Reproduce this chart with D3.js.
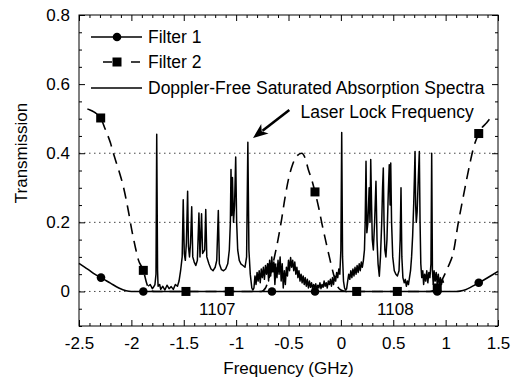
<!DOCTYPE html>
<html>
<head>
<meta charset="utf-8">
<script src="https://cdn.jsdelivr.net/npm/d3@7"></script>
<style>
  html, body { margin: 0; padding: 0; background: #fff; }
  svg { display: block; font-family: "Liberation Sans", Arial, Helvetica, sans-serif; }
</style>
</head>
<body>
<svg id="chart" width="513" height="379"></svg>
<script>
// Filter 1 transmission (solid line) and its markers
const filter1Line = [
  [-2.5, 0.081], [-2.45, 0.071], [-2.4, 0.061], [-2.35, 0.05], [-2.29, 0.04], [-2.2, 0.024],
  [-2.12, 0.01], [-2.05, 0.002], [-2.0, 0], [-1.5, 0], [0, 0], [1.1, 0], [1.137, 0.001],
  [1.19, 0.005], [1.233, 0.011], [1.28, 0.019], [1.316, 0.025], [1.38, 0.036], [1.44, 0.047],
  [1.5, 0.058]
];
const filter1Marks = [
  [-2.29, 0.04], [-1.886, 0], [-0.658, 0], [-0.247, 0], [0.92, 0], [1.316, 0.025]
];

// Filter 2 transmission (dashed line) and its markers
const filter2Line = [
  [-2.42, 0.528], [-2.4, 0.526], [-2.35, 0.518], [-2.293, 0.502], [-2.25, 0.47], [-2.2, 0.43],
  [-2.172, 0.4], [-2.12, 0.35], [-2.077, 0.304], [-2.03, 0.235], [-1.997, 0.179], [-1.96, 0.125],
  [-1.934, 0.092], [-1.886, 0.061], [-1.85, 0.02], [-1.82, 0.003], [-1.78, 0], [-0.76, 0],
  [-0.72, 0.01], [-0.69, 0.035], [-0.658, 0.068], [-0.62, 0.12], [-0.6, 0.15], [-0.565, 0.21],
  [-0.534, 0.27], [-0.5, 0.325], [-0.46, 0.368], [-0.42, 0.392], [-0.374, 0.4], [-0.34, 0.385],
  [-0.311, 0.353], [-0.28, 0.325], [-0.247, 0.288], [-0.21, 0.24], [-0.183, 0.199], [-0.14, 0.14],
  [-0.104, 0.092], [-0.07, 0.05], [-0.04, 0.02], [0.0, 0.004], [0.05, 0], [0.85, 0],
  [0.92, 0.01], [0.96, 0.03], [1.0, 0.055], [1.026, 0.073], [1.073, 0.112], [1.121, 0.199],
  [1.169, 0.275], [1.233, 0.372], [1.27, 0.42], [1.312, 0.454], [1.35, 0.475], [1.392, 0.488],
  [1.424, 0.5], [1.45, 0.505]
];
const filter2Marks = [
  [-2.293, 0.502], [-1.886, 0.061], [-1.479, 0], [-1.065, 0], [-0.658, 0.068],
  [-0.247, 0.288], [0.151, 0], [0.539, 0], [0.92, 0.01], [1.316, 0.457]
];

// Doppler-free saturated absorption spectrum
const spectrum = [
  [-1.84, 0.015], [-1.82, 0.02], [-1.80, 0.008], [-1.79, 0.012], [-1.775, 0.02], [-1.765, 0.05],
  [-1.758, 0.455], [-1.75, 0.06], [-1.745, 0.015], [-1.73, 0.02], [-1.72, 0.006], [-1.70, 0.015],
  [-1.68, 0.004], [-1.66, 0.018], [-1.64, 0.008], [-1.62, 0.014], [-1.60, 0.006], [-1.58, 0.02],
  [-1.56, 0.015], [-1.545, 0.03], [-1.53, 0.06], [-1.515, 0.1],
  [-1.505, 0.265], [-1.495, 0.11], [-1.485, 0.09], [-1.475, 0.14], [-1.463, 0.29], [-1.455, 0.13],
  [-1.445, 0.1], [-1.435, 0.14], [-1.424, 0.245], [-1.414, 0.1], [-1.40, 0.085], [-1.385, 0.075],
  [-1.37, 0.09], [-1.355, 0.227], [-1.345, 0.1], [-1.33, 0.225], [-1.32, 0.11], [-1.30, 0.12],
  [-1.29, 0.237], [-1.28, 0.1], [-1.26, 0.08], [-1.24, 0.065], [-1.22, 0.06], [-1.20, 0.07],
  [-1.185, 0.09], [-1.17, 0.234], [-1.16, 0.08], [-1.14, 0.063], [-1.12, 0.06], [-1.10, 0.065],
  [-1.08, 0.08], [-1.065, 0.12], [-1.055, 0.2], [-1.049, 0.353], [-1.042, 0.22], [-1.035, 0.33],
  [-1.025, 0.2], [-1.015, 0.25], [-1.004, 0.389], [-0.995, 0.2], [-0.985, 0.12], [-0.97, 0.09],
  [-0.955, 0.08], [-0.935, 0.075], [-0.915, 0.07], [-0.90, 0.1], [-0.888, 0.432], [-0.878, 0.12],
  [-0.865, 0.05], [-0.85, 0.01], [-0.84, 0.004],
  [-0.83, 0.01], [-0.82, 0.045], [-0.81, 0.02], [-0.80, 0.055], [-0.79, 0.03], [-0.78, 0.06],
  [-0.77, 0.025], [-0.76, 0.065], [-0.75, 0.04], [-0.74, 0.07], [-0.73, 0.035], [-0.72, 0.075],
  [-0.71, 0.05], [-0.70, 0.08], [-0.69, 0.03], [-0.68, 0.09], [-0.67, 0.045], [-0.66, 0.1],
  [-0.65, 0.06], [-0.64, 0.085], [-0.63, 0.02], [-0.62, 0.07], [-0.61, 0.04], [-0.60, 0.09],
  [-0.59, 0.05], [-0.58, 0.1], [-0.57, 0.03], [-0.56, 0.08], [-0.55, 0.01], [-0.54, 0.06],
  [-0.53, 0.02], [-0.52, 0.07], [-0.51, 0.045], [-0.50, 0.09], [-0.49, 0.06], [-0.48, 0.098],
  [-0.47, 0.07], [-0.46, 0.09], [-0.45, 0.06], [-0.44, 0.085], [-0.43, 0.05], [-0.42, 0.07],
  [-0.41, 0.04], [-0.40, 0.06], [-0.39, 0.03], [-0.38, 0.05], [-0.37, 0.025], [-0.36, 0.045],
  [-0.35, 0.02], [-0.34, 0.04], [-0.33, 0.015], [-0.32, 0.035], [-0.31, 0.01], [-0.30, 0.03],
  [-0.29, 0.012], [-0.28, 0.025], [-0.27, 0.008], [-0.26, 0.02], [-0.25, 0.01], [-0.24, 0.022],
  [-0.23, 0.006], [-0.22, 0.018], [-0.21, 0.01], [-0.20, 0.025], [-0.19, 0.008], [-0.18, 0.02],
  [-0.17, 0.012], [-0.16, 0.03], [-0.15, 0.015], [-0.14, 0.025], [-0.13, 0.01], [-0.12, 0.03],
  [-0.11, 0.02], [-0.10, 0.035], [-0.09, 0.015], [-0.08, 0.04], [-0.07, 0.02], [-0.06, 0.045],
  [-0.05, 0.03], [-0.04, 0.055], [-0.03, 0.04], [-0.02, 0.065], [-0.01, 0.05], [0.0, 0.12],
  [0.008, 0.46], [0.016, 0.1], [0.025, 0.03], [0.035, 0.01], [0.045, 0.004], [0.055, 0.008],
  [0.065, 0.03], [0.075, 0.05], [0.085, 0.035], [0.095, 0.06], [0.105, 0.04], [0.115, 0.065],
  [0.125, 0.045], [0.135, 0.07], [0.145, 0.05], [0.155, 0.075], [0.165, 0.055], [0.175, 0.08],
  [0.185, 0.06], [0.195, 0.085], [0.205, 0.07], [0.215, 0.09], [0.225, 0.12], [0.232, 0.2],
  [0.24, 0.377], [0.248, 0.17], [0.258, 0.2], [0.27, 0.3], [0.278, 0.2], [0.285, 0.382],
  [0.293, 0.25], [0.30, 0.15], [0.31, 0.12], [0.322, 0.2], [0.335, 0.319], [0.345, 0.15],
  [0.355, 0.08], [0.367, 0.044], [0.378, 0.1], [0.39, 0.2], [0.398, 0.3], [0.405, 0.357],
  [0.412, 0.2], [0.42, 0.12], [0.43, 0.1], [0.44, 0.15], [0.452, 0.28], [0.462, 0.367],
  [0.47, 0.25], [0.476, 0.372], [0.484, 0.2], [0.495, 0.1], [0.51, 0.06], [0.525, 0.05],
  [0.54, 0.045], [0.555, 0.06], [0.566, 0.15], [0.574, 0.3], [0.582, 0.1], [0.592, 0.04],
  [0.605, 0.025], [0.615, 0.035], [0.625, 0.015], [0.635, 0.03], [0.645, 0.02], [0.655, 0.04],
  [0.665, 0.06], [0.675, 0.1], [0.685, 0.16], [0.695, 0.25], [0.702, 0.33], [0.708, 0.405],
  [0.714, 0.25], [0.72, 0.2], [0.728, 0.23], [0.736, 0.3], [0.742, 0.35], [0.749, 0.405],
  [0.756, 0.2], [0.763, 0.08], [0.772, 0.04], [0.782, 0.06], [0.79, 0.02], [0.80, 0.05],
  [0.81, 0.03], [0.82, 0.06], [0.83, 0.025], [0.84, 0.055], [0.85, 0.04], [0.86, 0.08],
  [0.867, 0.4], [0.874, 0.06], [0.882, 0.02], [0.89, 0.06], [0.90, 0.03], [0.91, 0.055],
  [0.92, 0.02], [0.93, 0.05], [0.94, 0.015], [0.95, 0.04], [0.96, 0.02], [0.97, 0.035],
  [0.98, 0.025]
];

const xTicks = [-2.5, -2, -1.5, -1, -0.5, 0, 0.5, 1, 1.5];
const xTickLabels = ['-2.5', '-2', '-1.5', '-1', '-0.5', '0', '0.5', '1', '1.5'];
const yTicks = [0, 0.2, 0.4, 0.6, 0.8];
const yTickLabels = ['0', '0.2', '0.4', '0.6', '0.8'];
const gridLevels = [0, 0.2, 0.4];
const lineLabels = [
  { text: '1107', x: -1.18, y: -0.05 },
  { text: '1108', x: 0.52, y: -0.05 }
];
const legendNames = ['Filter 1', 'Filter 2', 'Doppler-Free Saturated Absorption Spectra'];

const svg = d3.select('#chart');
const margin = { top: 15, right: 15, bottom: 53, left: 79 };
const width = 513, height = 379;
const innerW = width - margin.left - margin.right;
const innerH = height - margin.top - margin.bottom;

const x = d3.scaleLinear().domain([-2.5, 1.5]).range([0, innerW]);
const y = d3.scaleLinear().domain([-0.1, 0.8]).range([innerH, 0]);

const g = svg.append('g').attr('transform', `translate(${margin.left},${margin.top})`);

// dotted reference lines
g.selectAll('line.grid').data(gridLevels).join('line')
  .attr('class', 'grid')
  .attr('x1', 0).attr('x2', innerW)
  .attr('y1', (d) => y(d)).attr('y2', (d) => y(d))
  .attr('stroke', '#444').attr('stroke-width', 1)
  .attr('stroke-dasharray', '1.5,3.5');

const xMinor = d3.range(-25, 16).map((i) => i / 10).filter((v) => !xTicks.some((t) => Math.abs(t - v) < 1e-6));
const yMinor = d3.range(-2, 17).map((i) => i / 20).filter((v) => !yTicks.some((t) => Math.abs(t - v) < 1e-6));

const styleAxis = (a) => {
  a.select('.domain').remove();
  a.selectAll('.tick line').attr('stroke', '#000').attr('stroke-width', 1);
  a.selectAll('.tick text').attr('fill', '#000').attr('font-size', '17px');
};

// bottom axis
g.append('g').attr('transform', `translate(0,${innerH})`)
  .call(d3.axisBottom(x).tickValues(xTicks).tickSize(-6).tickPadding(11)
    .tickFormat((d, i) => xTickLabels[i]))
  .call(styleAxis);
g.append('g').attr('transform', `translate(0,${innerH})`)
  .call(d3.axisBottom(x).tickValues(xMinor).tickSize(-3).tickFormat(''))
  .call(styleAxis);
// top axis
g.append('g')
  .call(d3.axisTop(x).tickValues(xTicks).tickSize(-6).tickFormat(''))
  .call(styleAxis);
g.append('g')
  .call(d3.axisTop(x).tickValues(xMinor).tickSize(-3).tickFormat(''))
  .call(styleAxis);
// left axis
g.append('g')
  .call(d3.axisLeft(y).tickValues(yTicks).tickSize(-6).tickPadding(9)
    .tickFormat((d, i) => yTickLabels[i]))
  .call(styleAxis);
g.append('g')
  .call(d3.axisLeft(y).tickValues(yMinor).tickSize(-3).tickFormat(''))
  .call(styleAxis);
// right axis
g.append('g').attr('transform', `translate(${innerW},0)`)
  .call(d3.axisRight(y).tickValues(yTicks).tickSize(-6).tickFormat(''))
  .call(styleAxis);
g.append('g').attr('transform', `translate(${innerW},0)`)
  .call(d3.axisRight(y).tickValues(yMinor).tickSize(-3).tickFormat(''))
  .call(styleAxis);

// frame
g.append('rect').attr('width', innerW).attr('height', innerH)
  .attr('fill', 'none').attr('stroke', '#000').attr('stroke-width', 1);

const line = d3.line().x((d) => x(d[0])).y((d) => y(d[1]));
const smooth = d3.line().x((d) => x(d[0])).y((d) => y(d[1])).curve(d3.curveMonotoneX);

g.append('path').datum(spectrum)
  .attr('fill', 'none').attr('stroke', '#000').attr('stroke-width', 1.5)
  .attr('stroke-linejoin', 'round').attr('d', line);

g.append('path').datum(filter2Line)
  .attr('fill', 'none').attr('stroke', '#000').attr('stroke-width', 1.6)
  .attr('stroke-dasharray', '11,7').attr('d', smooth);

g.append('path').datum(filter1Line)
  .attr('fill', 'none').attr('stroke', '#000').attr('stroke-width', 1.6)
  .attr('d', smooth);

g.selectAll('circle.f1').data(filter1Marks).join('circle')
  .attr('class', 'f1')
  .attr('cx', (d) => x(d[0])).attr('cy', (d) => y(d[1])).attr('r', 4.3).attr('fill', '#000');

const sq = 9;
g.selectAll('rect.f2').data(filter2Marks).join('rect')
  .attr('class', 'f2')
  .attr('x', (d) => x(d[0]) - sq / 2).attr('y', (d) => y(d[1]) - sq / 2)
  .attr('width', sq).attr('height', sq).attr('fill', '#000');

// line labels
g.selectAll('text.lbl').data(lineLabels).join('text')
  .attr('class', 'lbl')
  .attr('x', (d) => x(d.x)).attr('y', (d) => y(d.y)).attr('dy', '0.35em')
  .attr('text-anchor', 'middle').attr('font-size', '17px').text((d) => d.text);

// laser lock annotation
const tip = [-0.839, 0.444], tail = [-0.492, 0.525];
const tx = x(tip[0]), ty = y(tip[1]), sx = x(tail[0]), sy = y(tail[1]);
const ang = Math.atan2(ty - sy, tx - sx);
const headLen = 15, headW = 6;
const bx = tx - headLen * Math.cos(ang), by = ty - headLen * Math.sin(ang);
g.append('line').attr('x1', sx).attr('y1', sy).attr('x2', bx + 3 * Math.cos(ang)).attr('y2', by + 3 * Math.sin(ang))
  .attr('stroke', '#000').attr('stroke-width', 2.6);
g.append('path')
  .attr('d', `M${tx},${ty} L${bx + headW * Math.sin(ang)},${by - headW * Math.cos(ang)} L${bx + 4 * Math.cos(ang)},${by + 4 * Math.sin(ang)} L${bx - headW * Math.sin(ang)},${by + headW * Math.cos(ang)} Z`)
  .attr('fill', '#000');
g.append('text').attr('x', x(-0.385)).attr('y', y(0.52)).attr('dy', '0.35em')
  .attr('font-size', '17.5px').text('Laser Lock Frequency');

// legend
const leg = svg.append('g').attr('transform', 'translate(91,37)');
const rowH = 25;
leg.append('line').attr('x1', 0).attr('x2', 51).attr('y1', 0).attr('y2', 0)
  .attr('stroke', '#000').attr('stroke-width', 1.6);
leg.append('circle').attr('cx', 26).attr('cy', 0).attr('r', 4.3).attr('fill', '#000');
leg.append('line').attr('x1', 12).attr('x2', 49).attr('y1', rowH).attr('y2', rowH)
  .attr('stroke', '#000').attr('stroke-width', 1.6).attr('stroke-dasharray', '9,19,9');
leg.append('rect').attr('x', 26 - sq / 2).attr('y', rowH - sq / 2).attr('width', sq).attr('height', sq).attr('fill', '#000');
leg.append('line').attr('x1', 0).attr('x2', 51).attr('y1', 2 * rowH + 1).attr('y2', 2 * rowH + 1)
  .attr('stroke', '#000').attr('stroke-width', 1.3);
leg.selectAll('text').data(legendNames).join('text')
  .attr('x', 57).attr('y', (d, i) => i * rowH + (i === 2 ? 1 : 0)).attr('dy', '0.35em')
  .attr('font-size', '17.5px').text((d) => d);

// axis titles
svg.append('text').attr('x', margin.left + x(-0.5)).attr('y', 368).attr('dy', '0.35em')
  .attr('text-anchor', 'middle').attr('font-size', '17px').text('Frequency (GHz)');
svg.append('text').attr('transform', 'translate(21,153) rotate(-90)').attr('dy', '0.35em')
  .attr('text-anchor', 'middle').attr('font-size', '17px').text('Transmission');
</script>
</body>
</html>
